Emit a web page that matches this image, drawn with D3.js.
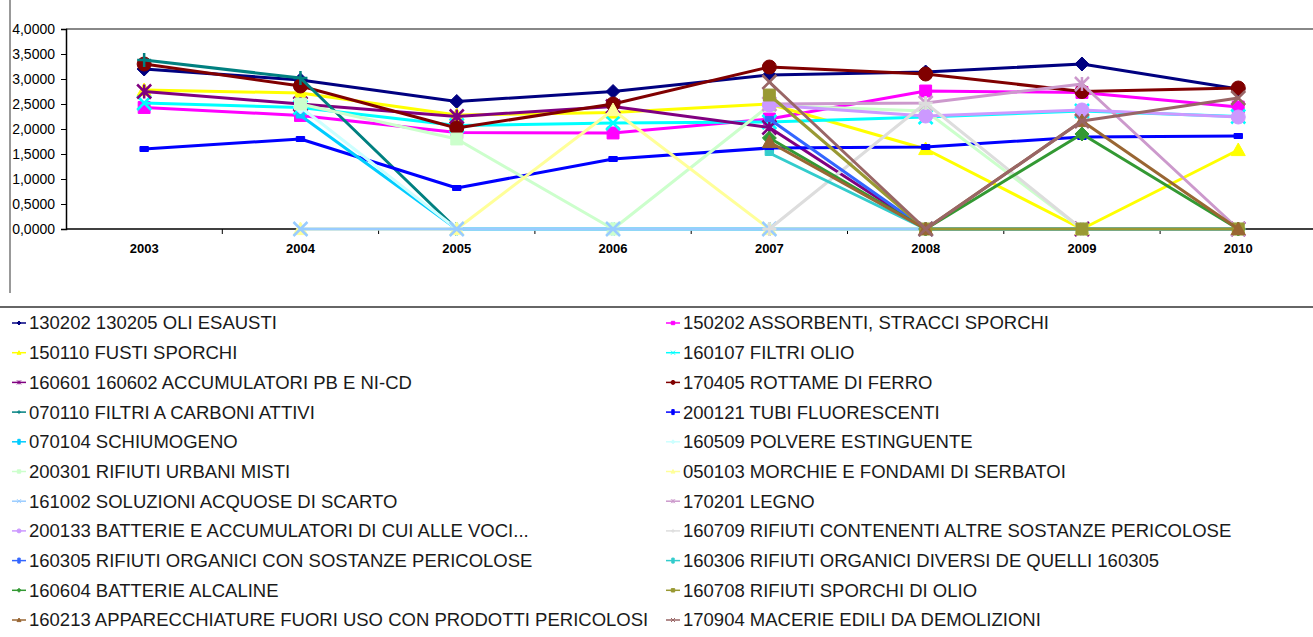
<!DOCTYPE html>
<html>
<head>
<meta charset="utf-8">
<script src="https://cdn.jsdelivr.net/npm/d3@7"></script>
<style>
  body { margin: 0; background: #fff; }
  svg { display: block; font-family: Arial, "Liberation Sans", sans-serif; }
  .y-axis text { font-size: 14px; fill: #000; }
  .x-axis text { font-size: 13px; font-weight: bold; fill: #000; }
  .legend text { font-size: 18.5px; fill: #1a1a1a; }
</style>
</head>
<body>
<div id="chart"></div>
<script>
// categories
const years = ['2003', '2004', '2005', '2006', '2007', '2008', '2009', '2010'];

const yTicks = [0, 0.5, 1, 1.5, 2, 2.5, 3, 3.5, 4];

const seriesNames = [
  '130202 130205 OLI ESAUSTI',
  '150202 ASSORBENTI, STRACCI SPORCHI',
  '150110 FUSTI SPORCHI',
  '160107 FILTRI OLIO',
  '160601 160602 ACCUMULATORI PB E NI-CD',
  '170405 ROTTAME DI FERRO',
  '070110 FILTRI A CARBONI ATTIVI',
  '200121 TUBI FLUORESCENTI',
  '070104 SCHIUMOGENO',
  '160509  POLVERE ESTINGUENTE',
  '200301 RIFIUTI URBANI MISTI',
  '050103 MORCHIE E FONDAMI DI SERBATOI',
  '161002 SOLUZIONI ACQUOSE DI SCARTO',
  '170201 LEGNO',
  '200133 BATTERIE E ACCUMULATORI DI CUI ALLE VOCI...',
  '160709 RIFIUTI CONTENENTI ALTRE SOSTANZE PERICOLOSE',
  '160305 RIFIUTI ORGANICI CON SOSTANZE PERICOLOSE',
  '160306 RIFIUTI ORGANICI DIVERSI DE QUELLI 160305',
  '160604 BATTERIE ALCALINE',
  '160708 RIFIUTI SPORCHI DI OLIO',
  '160213 APPARECCHIATURE FUORI USO CON PRODOTTI PERICOLOSI',
  '170904 MACERIE EDILI DA DEMOLIZIONI'
];

const seriesColors = [
  '#000080', '#ff00ff', '#ffff00', '#00ffff', '#800080', '#800000',
  '#008080', '#0000ff', '#00ccff', '#ccffff', '#ccffcc', '#ffff99',
  '#99ccff', '#cc99cc', '#cc99ff', '#dddddd', '#3366ff', '#33cccc',
  '#339933', '#999933', '#996633', '#996666'
];

const seriesMarkers = [
  'diamond', 'square', 'triangle', 'x', 'star', 'circle', 'plus', 'dash',
  'dash', 'diamond', 'square', 'triangle', 'x', 'star', 'circle', 'plus',
  'dash', 'dash', 'diamond', 'square', 'triangle', 'x'
];

// values per series, 2003..2010 (null = no data)
const seriesValues = [
  [3.20, 2.98, 2.55, 2.75, 3.08, 3.14, 3.30, 2.80],
  [2.43, 2.27, 1.93, 1.92, 2.20, 2.76, 2.73, 2.44],
  [2.78, 2.72, 2.28, 2.33, 2.50, 1.60, 0, 1.58],
  [2.52, 2.43, 2.07, 2.12, 2.14, 2.24, 2.36, 2.25],
  [2.75, 2.50, 2.25, 2.45, 2.03, 0, 0, 0],
  [3.30, 2.86, 2.02, 2.50, 3.24, 3.10, 2.75, 2.82],
  [3.38, 3.02, 0, 0, 0, 0, 0, 0],
  [1.60, 1.80, 0.82, 1.40, 1.62, 1.64, 1.84, 1.86],
  [null, 2.27, 0, 0, 0, 0, 0, 0],
  [null, 2.44, 0, 0, 0, 0, 0, 0],
  [null, 2.50, 1.80, 0, 2.47, 2.36, 0, 0],
  [null, 0, 0, 2.38, 0, 0, 0, 0],
  [null, 0, 0, 0, 0, 0, null, null],
  [null, null, null, null, 2.50, 2.52, 2.90, 0],
  [null, null, null, null, 2.48, 2.26, 2.38, 2.24],
  [null, null, null, null, 0, 2.52, 0, 0],
  [null, null, null, null, 2.20, 0, 0, 0],
  [null, null, null, null, 1.52, 0, 0, 0],
  [null, null, null, null, 1.82, 0, 1.90, 0],
  [null, null, null, null, 2.68, 0, 0, 0],
  [null, null, null, null, 1.74, 0, 2.16, 0],
  [null, null, null, null, 2.94, 0, 2.16, 2.62]
];

const width = 1313, height = 637;
const plot = {left: 66, top: 29, bottom: 229, band: 156.3};

const svg = d3.select('#chart').append('svg')
    .attr('width', width)
    .attr('height', height);

const x = d3.scaleBand()
    .domain(years)
    .range([plot.left, plot.left + plot.band * years.length])
    .padding(0);

const y = d3.scaleLinear()
    .domain([0, 4])
    .range([plot.bottom, plot.top]);

const cx = d => x(d) + x.bandwidth() / 2;

// outer frame pieces
svg.append('line')
    .attr('x1', 10).attr('x2', 10)
    .attr('y1', 0).attr('y2', 293)
    .attr('stroke', '#555').attr('stroke-width', 1.2);

svg.append('line')
    .attr('x1', 0).attr('x2', width)
    .attr('y1', 307).attr('y2', 307)
    .attr('stroke', '#666').attr('stroke-width', 2);

// plot top border
svg.append('line')
    .attr('x1', plot.left).attr('x2', width)
    .attr('y1', plot.top).attr('y2', plot.top)
    .attr('stroke', '#888').attr('stroke-width', 2);

// y axis
const yAxis = d3.axisLeft(y)
    .tickValues(yTicks)
    .tickSize(5)
    .tickPadding(6)
    .tickFormat(d => d3.format('.4f')(d).replace('.', ','));

svg.append('g')
    .attr('class', 'y-axis')
    .attr('transform', `translate(${plot.left},0)`)
    .call(yAxis)
    .call(g => g.select('.domain').attr('stroke', '#000').attr('stroke-width', 1.5))
    .call(g => g.selectAll('.tick line').attr('stroke', '#000'));

// x axis
const xAxis = d3.axisBottom(x)
    .tickSize(0)
    .tickPadding(15);

svg.append('g')
    .attr('class', 'x-axis')
    .attr('transform', `translate(0,${plot.bottom})`)
    .call(xAxis)
    .call(g => g.select('.domain').remove());

svg.append('line')
    .attr('x1', plot.left).attr('x2', width)
    .attr('y1', plot.bottom).attr('y2', plot.bottom)
    .attr('stroke', '#000').attr('stroke-width', 1.5);

svg.append('g')
    .selectAll('line')
    .data(years.slice(1))
    .join('line')
    .attr('x1', d => x(d)).attr('x2', d => x(d))
    .attr('y1', plot.bottom).attr('y2', plot.bottom + 5)
    .attr('stroke', '#000');

// marker path
function markerPath(type, s) {
  const h = s / 2;
  switch (type) {
    case 'diamond': return `M0,${-h}L${h},0L0,${h}L${-h},0Z`;
    case 'square': return `M${-h * 0.85},${-h * 0.85}h${s * 0.85}v${s * 0.85}h${-s * 0.85}Z`;
    case 'triangle': return `M0,${-h}L${h},${h * 0.8}L${-h},${h * 0.8}Z`;
    case 'circle': return d3.symbol(d3.symbolCircle, Math.PI * h * h)();
    case 'x': return `M${-h},${-h}L${h},${h}M${-h},${h}L${h},${-h}`;
    case 'star': return `M${-h},${-h}L${h},${h}M${-h},${h}L${h},${-h}M0,${-h}L0,${h}`;
    case 'plus': return `M${-h},0L${h},0M0,${-h}L0,${h}`;
    case 'dash': return `M${-h * 0.6},-2.5h${s * 0.6}v5h${-s * 0.6}Z`;
  }
}
const strokeOnly = t => t === 'x' || t === 'star' || t === 'plus';

const line = d3.line()
    .defined(d => d.v != null)
    .x(d => cx(d.year))
    .y(d => y(d.v));

const series = seriesNames.map((name, i) => ({
  name,
  color: seriesColors[i],
  marker: seriesMarkers[i],
  points: years.map((year, j) => ({year, v: seriesValues[i][j]}))
}));

const seriesG = svg.append('g').selectAll('g')
    .data(series)
    .join('g');

seriesG.append('path')
    .attr('fill', 'none')
    .attr('stroke', d => d.color)
    .attr('stroke-width', 3)
    .attr('stroke-linejoin', 'round')
    .attr('d', d => line(d.points));

seriesG.selectAll('path.marker')
    .data(d => d.points.filter(p => p.v != null).map(p => ({...p, s: d})))
    .join('path')
    .attr('class', 'marker')
    .attr('transform', p => `translate(${cx(p.year)},${y(p.v)})`)
    .attr('d', p => markerPath(p.s.marker, 14))
    .attr('fill', p => strokeOnly(p.s.marker) ? 'none' : p.s.color)
    .attr('stroke', p => p.s.color)
    .attr('stroke-width', p => strokeOnly(p.s.marker) ? 2.5 : 1);

// legend
const legend = svg.append('g').attr('class', 'legend');
const rowY = i => 323 + Math.floor(i / 2) * 29.7;
const colX = i => (i % 2 === 0 ? 12 : 666);

const item = legend.selectAll('g')
    .data(series)
    .join('g')
    .attr('transform', (d, i) => `translate(${colX(i)},${rowY(i)})`);

item.append('line')
    .attr('x1', 0).attr('x2', 14)
    .attr('stroke', d => d.color)
    .attr('stroke-width', 1.5);

item.append('path')
    .attr('transform', 'translate(7,0)')
    .attr('d', d => markerPath(d.marker, 4))
    .attr('fill', d => strokeOnly(d.marker) ? 'none' : d.color)
    .attr('stroke', d => d.color)
    .attr('stroke-width', 1);

item.append('text')
    .attr('x', 17)
    .attr('dy', '0.35em')
    .text(d => d.name);
</script>
</body>
</html>
